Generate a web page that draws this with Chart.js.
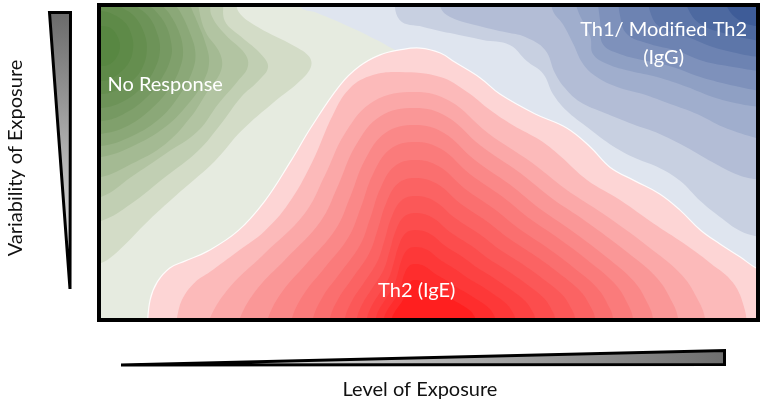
<!DOCTYPE html>
<html>
<head>
<meta charset="utf-8">
<script src="https://cdn.jsdelivr.net/npm/chart.js@4"></script>
<style>
html,body{margin:0;padding:0;background:#ffffff;}
#wrap{width:765px;height:403px;}
</style>
</head>
<body>
<div id="wrap"><canvas id="c" width="765" height="403"></canvas></div>
<script>
// ---- text ----
const regionLabels = ['No Response', 'Th1/ Modified Th2', '(IgG)', 'Th2 (IgE)'];
const xAxisTitle = 'Level of Exposure';
const yAxisTitle = 'Variability of Exposure';

// ---- contour levels (x = level of exposure 0-100, y = variability 0-100) ----
// Th1 / IgG region (top right), outermost to innermost
const blue0 = [[29.9,105],[30.4,100],[33.0,98.1],[38.0,93.6],[42.1,89.4],[44.9,86.2],[48.7,82.3],[57.9,57.2],[76.2,21.9],[91.5,5.8],[108,-5],[108,105]];
const blue1 = [[44.6,105],[45.6,95.8],[49.2,93.6],[53.3,91.6],[58.3,89.4],[62.4,87.8],[65.0,82.6],[67.5,78.5],[69.0,72.0],[71.1,66.6],[74.2,61.4],[77.7,55.9],[81.2,51.8],[84.9,48.6],[88.4,44.1],[91.5,37.6],[94.5,32.5],[97.6,28.0],[100.6,26.0],[104,24.5],[108,24],[108,105]];
const blue2 = [[51.8,105],[51.8,100],[53.3,96.8],[58.3,93.6],[62.4,91.6],[64.7,90.4],[67.8,86.2],[69.3,78.8],[70.8,74.0],[73.1,69.5],[76.9,65.9],[81.1,62.4],[85.3,59.2],[89.3,55.0],[93.3,50.2],[97.3,46.0],[100.6,44.4],[104,43.5],[108,43],[108,105]];
const blue3 = [[68.5,105],[69.0,98.7],[70.5,94.5],[72.1,88.1],[73.6,81.7],[75.7,77.5],[78.8,74.3],[82.7,72.0],[86.9,68.8],[91.0,65.6],[95.0,61.4],[99.5,58.2],[102.1,57.2],[108,57],[108,105]];
const blue4 = [[72.4,105],[72.7,99.4],[74.7,90.4],[75.1,84.9],[77.3,81.7],[80.8,79.4],[84.9,77.5],[89.5,74.3],[93.4,71.1],[97.6,68.8],[100.6,67.8],[102.9,67.2],[108,67],[108,105]];
const blue5 = [[75.6,105],[76.2,95.5],[76.6,88.1],[79.2,84.9],[83.4,82.6],[87.3,80.7],[91.5,77.5],[95.6,75.2],[100.6,73.0],[102.9,72.3],[108,72],[108,105]];
const blue6 = [[78.9,105],[79.2,97.7],[80.3,91.3],[83.8,88.1],[87.9,85.9],[91.9,82.6],[96.5,80.7],[100.6,79.4],[102.9,79.1],[108,79],[108,105]];
const blue7 = [[83.5,105],[83.8,98.7],[85.3,93.6],[89.5,90.4],[93.4,87.1],[97.6,84.9],[100.6,83.9],[102.9,83.6],[108,83.5],[108,105]];
const blue8 = [[89.2,105],[89.5,100],[91.5,94.5],[95.6,91.3],[100.6,89.1],[102.9,88.4],[108,88],[108,105]];
const blue9 = [[95.3,105],[95.6,100],[97.6,95.5],[100.6,93.6],[102.9,92.9],[108,92.5],[108,105]];

// No Response region (upper left), outermost to innermost
const green1 = [[-5,15],[0,17.7],[2.6,21.5],[7.2,31.2],[12.2,40.8],[17.4,50.5],[21.4,60.1],[26.6,69.8],[30.0,75.5],[32.0,80.5],[31.8,84.0],[29.5,87.5],[24.0,93.5],[21.0,98.5],[20.0,105],[-5,105]];
const green2 = [[-5,30.5],[0,31.2],[4.6,36.7],[9.8,45.3],[14.8,53.7],[18.3,62.4],[21.4,71.1],[24.0,76.2],[25.5,80.7],[24.4,84.9],[21.4,90.4],[18.9,95.5],[17.9,105],[-5,105]];
const green3 = [[-5,38.5],[0,38.9],[4.6,45.3],[9.8,52.7],[14.8,60.1],[17.9,68.8],[20.9,76.2],[22.4,80.7],[22.0,84.9],[18.9,91.3],[16.8,97.7],[16.3,105],[-5,105]];
const green4 = [[-5,45],[0,45.3],[4.6,49.5],[9.8,55.9],[13.7,64.6],[16.3,73.0],[18.3,79.4],[18.2,84.9],[15.9,92.3],[14.8,101],[14.7,105],[-5,105]];
const green5 = [[-5,51.5],[0,51.8],[4.6,55.0],[9.8,61.4],[13.3,68.8],[15.6,75.9],[16.5,82.3],[15.9,88.7],[14.7,95.2],[13.6,101],[13.4,105],[-5,105]];
const green6 = [[-5,55],[0,55.3],[4.1,57.9],[8.7,63.7],[11.8,71.1],[13.9,79.1],[14.4,85.5],[13.4,92.6],[12.1,98.4],[11.3,101],[11.0,105],[-5,105]];
const green7 = [[-5,59],[0,59.2],[3.7,61.4],[7.5,66.9],[10.5,74.0],[12.2,81.3],[12.5,86.8],[11.8,92.6],[10.5,97.7],[9.3,101],[9.0,105],[-5,105]];
const green8 = [[-5,63],[0,63.3],[3.2,65.3],[6.7,70.4],[9.3,77.2],[10.7,83.9],[10.7,88.7],[9.8,94.5],[8.2,99.0],[7.2,101],[7.0,105],[-5,105]];
const green9 = [[-5,67.3],[0,67.5],[2.9,69.1],[6.0,73.6],[8.1,79.7],[9.0,86.2],[8.5,92.0],[7.2,97.1],[5.2,100.6],[4.7,102.2],[4.6,105],[-5,105]];
const green10 = [[-5,71.8],[0,72.0],[2.1,73.0],[4.4,75.6],[6.3,80.4],[7.0,86.8],[6.4,92.6],[4.9,97.4],[2.9,100.3],[2.3,102.2],[2.2,105],[-5,105]];
const green11 = [[-3,98.9],[0,98.7],[1.8,97.7],[3.7,94.9],[4.7,90.7],[4.9,86.8],[4.3,82.3],[2.7,78.5],[1.1,76.5],[0,76.2],[-3,76]];
const green12 = [[-3,94],[0,93.9],[1.5,93.2],[2.4,91.0],[2.9,87.5],[2.4,83.9],[1.4,81.7],[0,81.0],[-3,80.9]];

// Th2 / IgE region (bottom centre), outermost to innermost
const red1 = [[7.0,-4],[7.5,5.8],[8.6,11.6],[10.5,16.1],[12.8,18.3],[16.3,21.5],[20.9,28.0],[25.0,37.6],[28.9,50.2],[32.1,61.4],[36.5,74.9],[39.5,81.0],[42.6,84.6],[45.6,86.2],[48.7,86.8],[51.8,85.2],[54.0,82.3],[57.9,77.2],[60.9,72.0],[66.3,65.6],[71.1,61.1],[74.7,55.0],[77.7,48.5],[81.5,44.1],[85.3,39.9],[88.4,34.7],[91.5,28.3],[94.5,23.8],[97.6,19.6],[100,16.1],[103,13.5],[106,-4]];
const red2 = [[11.5,-4],[11.6,0],[12.5,6.4],[14.4,11.6],[16.6,14.8],[20.9,21.5],[25.0,28.0],[28.6,36.7],[32.1,49.5],[35.4,65.3],[38.0,73.9],[41.5,78.1],[45.6,79.1],[51.8,77.5],[55.9,72.7],[59.4,66.9],[62.9,62.0],[67.0,57.2],[70.1,52.1],[74.2,44.4],[79.3,37.9],[84.3,30.5],[88.9,24.1],[93.0,17.7],[96.5,11.3],[98.3,2.6],[98.6,-4]];
const red3 = [[16.64,-4],[16.64,0],[19.77,10.17],[24.78,20.35],[31.04,33.43],[34.17,45.78],[37.30,59.59],[41.68,69.76],[47.94,72.67],[53.25,69.76],[59.01,59.59],[65.65,50.14],[70.96,41.42],[76.72,33.43],[83.36,23.25],[88.67,13.81],[91.32,5.09],[92.21,0],[92.21,-4]];
const red4 = [[21.22,-4],[21.22,0],[23.89,9.45],[28.17,18.91],[33.51,31.06],[36.18,42.54],[38.86,55.37],[42.60,64.82],[47.94,67.52],[52.76,64.82],[57.98,55.37],[64.00,46.59],[68.82,38.49],[74.04,31.06],[80.06,21.61],[84.88,12.83],[87.29,4.73],[88.09,0],[88.09,-4]];
const red5 = [[25.50,-4],[25.50,0],[27.74,8.69],[31.33,17.38],[35.82,28.55],[38.07,39.10],[40.31,50.89],[43.45,59.58],[47.94,62.06],[52.30,59.58],[57.02,50.89],[62.47,42.82],[66.83,35.37],[71.55,28.55],[77.00,19.86],[81.36,11.79],[83.54,4.34],[84.27,0],[84.27,-4]];
const red6 = [[29.16,-4],[29.16,0],[31.04,7.92],[34.04,15.85],[37.80,26.03],[39.68,35.65],[41.55,46.40],[44.18,54.33],[47.94,56.59],[51.93,54.33],[56.26,46.40],[61.25,39.05],[65.25,32.26],[69.57,26.03],[74.56,18.11],[78.56,10.75],[80.55,3.96],[81.22,0],[81.22,-4]];
const red7 = [[32.37,-4],[32.37,0],[33.93,7.11],[36.42,14.22],[39.53,23.37],[41.09,32.00],[42.65,41.66],[44.83,48.77],[47.94,50.80],[51.57,48.77],[55.50,41.66],[60.03,35.05],[63.66,28.96],[67.59,23.37],[72.12,16.26],[75.75,9.65],[77.57,3.56],[78.17,0],[78.17,-4]];
const red8 = [[34.96,-4],[34.96,0],[36.26,6.30],[38.33,12.61],[40.93,20.71],[42.23,28.36],[43.53,36.92],[45.34,43.22],[47.94,45.02],[51.24,43.22],[54.81,36.92],[58.93,31.06],[62.23,25.66],[65.80,20.71],[69.92,14.41],[73.22,8.55],[74.87,3.15],[75.42,0],[75.42,-4]];
const red9 = [[37.25,-4],[37.25,0],[38.32,5.49],[40.03,10.98],[42.17,18.05],[43.24,24.71],[44.31,32.17],[45.80,37.66],[47.94,39.23],[50.87,37.66],[54.05,32.17],[57.71,27.07],[60.64,22.36],[63.82,18.05],[67.48,12.55],[70.42,7.45],[71.88,2.75],[72.37,0],[72.37,-4]];
const red10 = [[39.08,-4],[39.08,0],[39.97,4.73],[41.38,9.45],[43.16,15.53],[44.04,21.27],[44.93,27.68],[46.17,32.41],[47.94,33.76],[50.50,32.41],[53.28,27.68],[56.49,23.29],[59.05,19.24],[61.83,15.53],[65.04,10.80],[67.60,6.41],[68.88,2.36],[69.31,0],[69.31,-4]];
const red11 = [[40.61,-4],[40.61,0],[41.34,3.96],[42.52,7.92],[43.98,13.02],[44.71,17.83],[45.45,23.21],[46.47,27.17],[47.94,28.30],[50.14,27.17],[52.52,23.21],[55.27,19.53],[57.47,16.13],[59.85,13.02],[62.60,9.06],[64.79,5.38],[65.89,1.98],[66.26,0],[66.26,-4]];
const red12 = [[41.98,-4],[41.98,0],[42.58,3.20],[43.53,6.39],[44.72,10.50],[45.32,14.38],[45.91,18.72],[46.75,21.92],[47.94,22.83],[49.77,21.92],[51.76,18.72],[54.05,15.75],[55.88,13.01],[57.87,10.50],[60.16,7.31],[61.99,4.34],[62.90,1.60],[63.21,0],[63.21,-4]];
const red13 = [[43.21,-4],[43.21,0],[43.68,2.43],[44.44,4.86],[45.39,7.99],[45.86,10.94],[46.33,14.24],[46.99,16.67],[47.94,17.36],[49.41,16.67],[50.99,14.24],[52.82,11.98],[54.29,9.90],[55.88,7.99],[57.71,5.56],[59.17,3.30],[59.91,1.22],[60.15,0],[60.15,-4]];
const red14 = [[44.43,-4],[44.43,0],[44.78,1.71],[45.34,3.42],[46.04,5.62],[46.40,7.70],[46.75,10.02],[47.24,11.73],[47.94,12.22],[49.04,11.73],[50.23,10.02],[51.60,8.43],[52.70,6.97],[53.89,5.62],[55.27,3.91],[56.37,2.32],[56.92,0.86],[57.10,0],[57.10,-4]];

// ---- styles ----
const blueColors = ['#dfe5ef','#c8d0e1','#b3bdd6','#a0aecd','#8fa0c4','#7e91bb','#6d83b2','#5d76a9','#4d69a0','#3e5c98'];
const greenColors = ['#d3dcc7','#c1cfb3','#b2c4a2','#a4ba93','#97b185','#8ba878','#80a06c','#769962','#6d9358','#658e4f','#5e8a48','#588742'];
const redColors = ['#fdd5d5','#fcbaba','#fba8a8','#fa9797','#fa8888','#fa7b7b','#fa6f6f','#fb6363','#fb5858','#fc4d4d','#fc4242','#fd3838','#fe2d2d','#ff1f1f'];

const blueLevels = [blue0,blue1,blue2,blue3,blue4,blue5,blue6,blue7,blue8,blue9];
const greenLevels = [green1,green2,green3,green4,green5,green6,green7,green8,green9,green10,green11,green12];
const redLevels = [red1,red2,red3,red4,red5,red6,red7,red8,red9,red10,red11,red12,red13,red14];

const layers = [];
blueLevels.forEach((pts, i) => layers.push({pts, color: blueColors[i], edge: false}));
greenLevels.forEach((pts, i) => layers.push({pts, color: greenColors[i], edge: false}));
redLevels.forEach((pts, i) => layers.push({pts, color: redColors[i], edge: i === 0}));

const N = layers.length;
const datasets = layers.map((l, i) => ({
  data: l.pts.map(p => ({x: p[0], y: p[1]})),
  showLine: true,
  fill: 'shape',
  backgroundColor: l.color,
  borderColor: 'rgba(255,255,255,0.9)',
  borderWidth: l.edge ? 1.2 : 0,
  pointRadius: 0,
  pointHoverRadius: 0,
  tension: 0.4,
  capBezierPoints: false,
  order: N - i
}));

const FONT = '20px Lato, "Open Sans", sans-serif';

const overlay = {
  id: 'overlay',
  beforeDraw(chart) {
    const {ctx, chartArea: a} = chart;
    ctx.save();
    ctx.fillStyle = '#e6ebe0';
    ctx.fillRect(a.left, a.top, a.right - a.left, a.bottom - a.top);
    ctx.restore();
  },
  afterDraw(chart) {
    const {ctx, chartArea: a} = chart;
    const xs = chart.scales.x, ys = chart.scales.y;
    ctx.save();
    // frame
    ctx.lineWidth = 4;
    ctx.strokeStyle = '#000';
    ctx.strokeRect(a.left - 2, a.top - 2, a.right - a.left + 4, a.bottom - a.top + 4);

    // vertical wedge
    let g = ctx.createLinearGradient(0, 12, 0, 289);
    g.addColorStop(0, '#6a6a6a');
    g.addColorStop(1, '#f4f4f4');
    ctx.beginPath();
    ctx.moveTo(49.5, 12.5);
    ctx.lineTo(70.5, 12.5);
    ctx.lineTo(70, 289);
    ctx.closePath();
    ctx.fillStyle = g;
    ctx.fill();
    ctx.lineWidth = 3;
    ctx.strokeStyle = '#000';
    ctx.stroke();

    // horizontal wedge
    g = ctx.createLinearGradient(121, 0, 726, 0);
    g.addColorStop(0, '#ffffff');
    g.addColorStop(1, '#6e6e6e');
    ctx.beginPath();
    ctx.moveTo(121, 365);
    ctx.lineTo(724.5, 350.5);
    ctx.lineTo(724.5, 364.5);
    ctx.closePath();
    ctx.fillStyle = g;
    ctx.fill();
    ctx.stroke();

    // axis titles
    ctx.fillStyle = '#111';
    ctx.font = FONT;
    ctx.textAlign = 'center';
    ctx.textBaseline = 'alphabetic';
    ctx.fillText(xAxisTitle, 420, 396);
    ctx.save();
    ctx.translate(22, 158);
    ctx.rotate(-Math.PI / 2);
    ctx.fillText(yAxisTitle, 0, 0);
    ctx.restore();

    // region labels
    ctx.fillStyle = '#ffffff';
    ctx.fillText(regionLabels[0], xs.getPixelForValue(9.8), ys.getPixelForValue(73.0));
    ctx.fillText(regionLabels[1], xs.getPixelForValue(85.9), ys.getPixelForValue(90.7));
    ctx.fillText(regionLabels[2], xs.getPixelForValue(85.9), ys.getPixelForValue(81.7));
    ctx.fillText(regionLabels[3], xs.getPixelForValue(48.2), ys.getPixelForValue(6.75));
    ctx.restore();
  }
};

new Chart(document.getElementById('c'), {
  type: 'scatter',
  data: {datasets},
  options: {
    responsive: false,
    animation: false,
    events: [],
    layout: {padding: {left: 101, top: 7, right: 9, bottom: 85}},
    scales: {
      x: {type: 'linear', min: 0, max: 100, display: false},
      y: {type: 'linear', min: 0, max: 100, display: false}
    },
    plugins: {legend: {display: false}, tooltip: {enabled: false}}
  },
  plugins: [overlay]
});
</script>
</body>
</html>
